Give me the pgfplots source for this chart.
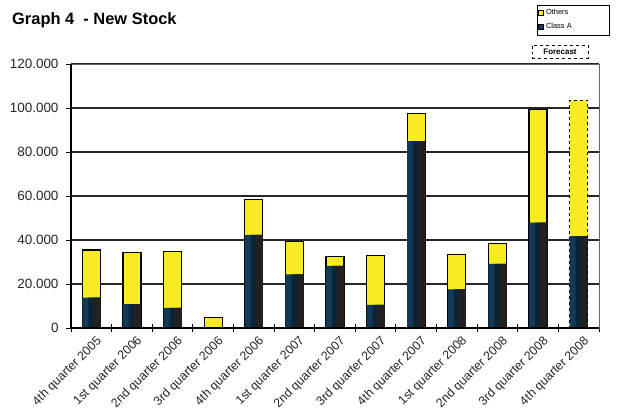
\documentclass[border=0pt]{standalone}
\usepackage{fontspec}
\setmainfont{Liberation Sans}
\usepackage{pgfplots}
\pgfplotsset{compat=1.18}
\definecolor{yel}{RGB}{247,236,36}
\definecolor{navyA}{RGB}{18,58,86}
\definecolor{navyB}{RGB}{10,36,54}
\definecolor{charc}{RGB}{36,32,33}
\begin{document}
\begin{tikzpicture}
\useasboundingbox (0,0) rectangle (618bp,-416bp);
\node[anchor=west, inner sep=0pt, font=\bfseries\fontsize{16.5}{19}\selectfont] at (12bp,-20bp) {Graph 4\ \ - New Stock};
\begin{axis}[
  at={(71bp,-328bp)}, anchor=south west,
  scale only axis, width=528bp, height=264bp,
  xmin=-0.5, xmax=12.5, ymin=0, ymax=120000,
  scaled y ticks=false,
  ytick={0,20000,40000,60000,80000,100000,120000},
  yticklabels={0,20.000,40.000,60.000,80.000,100.000,120.000},
  xtick={0,...,12},
  xticklabels={4th quarter 2005,1st quarter 2006,2nd quarter 2006,3rd quarter 2006,4th quarter 2006,1st quarter 2007,2nd quarter 2007,3rd quarter 2007,4th quarter 2007,1st quarter 2008,2nd quarter 2008,3rd quarter 2008,4th quarter 2008},
  minor xtick={-0.5,0.5,...,12.5},
  tick pos=left,
  major x tick style={draw=none},
  minor x tick style={black, line width=1pt},
  xtick align=center, ytick align=outside,
  major tick length=5bp, minor tick length=8bp,
  ytick style={black, line width=1pt},
  ymajorgrids, grid style={black!85, line width=1.1pt},
  axis line style={black!60, line width=0.6pt},
  yticklabel style={font=\fontsize{13.5}{15}\selectfont, text=black!85, xshift=-4bp},
  xticklabel style={font=\fontsize{12.5}{14}\selectfont, text=black!85, rotate=45, anchor=north east, inner sep=1pt, xshift=1bp, yshift=-5bp},
  legend style={draw=none, fill=none, at={(axis description cs:0.8845,1.2159)}, anchor=north west, font=\fontsize{7.5}{8.5}\selectfont, inner xsep=0pt, inner ysep=0pt, row sep=3pt},
  legend cell align=left,
  legend image code/.code={\draw[#1] (0bp,-2.5bp) rectangle (5bp,2.5bp);},
]
\addplot[ybar, bar width=18bp, bar shift=0pt, fill=yel, draw=black, line width=1.2pt, forget plot] coordinates {
(0,35500) (1,34400) (2,34800) (3,4900) (4,58500) (5,39400) (6,32400) (7,32900) (8,97600) (9,33300) (10,38500) (11,99400)};
\addplot[ybar, bar width=18bp, bar shift=0pt, fill=yel, draw=none, forget plot] coordinates {(12,103600)};
% Class A: layered fills imitate the left-to-right dark gradient
\addplot[ybar, bar width=18bp, bar shift=0pt, fill=navyA, draw=none, forget plot] coordinates {
(0,13800) (1,10900) (2,9200) (4,42300) (5,24400) (6,28200) (7,10500) (8,85000) (9,17600) (10,29200) (11,47900) (12,41800)};
\addplot[ybar, bar width=12bp, bar shift=3bp, fill=navyB, draw=none, forget plot] coordinates {
(0,13800) (1,10900) (2,9200) (4,42300) (5,24400) (6,28200) (7,10500) (8,85000) (9,17600) (10,29200) (11,47900) (12,41800)};
\addplot[ybar, bar width=7bp, bar shift=5.5bp, fill=charc, draw=none, forget plot] coordinates {
(0,13800) (1,10900) (2,9200) (4,42300) (5,24400) (6,28200) (7,10500) (8,85000) (9,17600) (10,29200) (11,47900) (12,41800)};
\addplot[ybar, bar width=18bp, bar shift=0pt, fill=none, draw=black, dashed, line width=1pt, forget plot] coordinates {(12,103600)};
\addlegendimage{fill=yel, draw=black, line width=0.8pt}
\addlegendentry{Others}
\addlegendimage{fill=navyA, draw=none}
\addlegendentry{Class A}
\end{axis}
\draw[black, line width=1.5pt] (71bp,-64bp) -- (71bp,-328bp) -- (599bp,-328bp);
\draw[black, line width=0.6pt] (537bp,-5bp) rectangle (609bp,-35bp);
\node[draw=black, dashed, line width=0.7pt, font=\bfseries\fontsize{8}{9}\selectfont, minimum width=56bp, minimum height=13bp, inner sep=1pt] at (560bp,-51.5bp) {Forecast};
\end{tikzpicture}
\end{document}
